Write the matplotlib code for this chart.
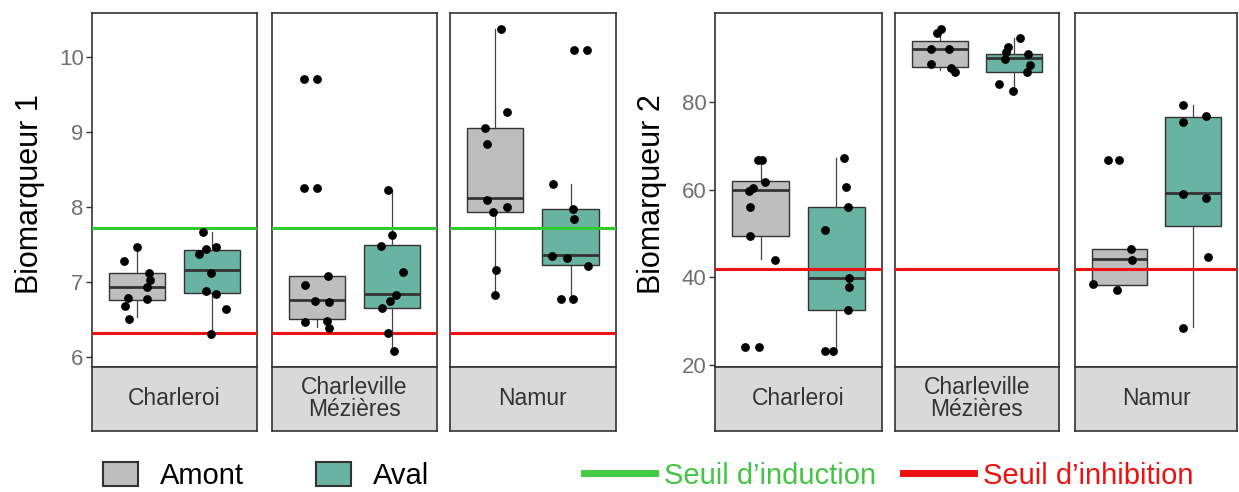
import matplotlib.pyplot as plt
from matplotlib.patches import Patch
from matplotlib.lines import Line2D

plt.rcParams['font.family'] = ['Liberation Sans', 'DejaVu Sans']

sites = ["Charleroi", "Charleville\nMézières", "Namur"]
groups = ["Amont", "Aval"]

# box order: Charleroi Amont, Charleroi Aval, Charleville Amont, Charleville Aval, Namur Amont, Namur Aval
bio1_whislo = [6.54, 6.31, 6.40, 6.09, 6.83, 6.78]
bio1_q1 = [6.77, 6.86, 6.51, 6.66, 7.94, 7.23]
bio1_med = [6.94, 7.16, 6.77, 6.85, 8.12, 7.36]
bio1_q3 = [7.13, 7.43, 7.09, 7.50, 9.06, 7.98]
bio1_whishi = [7.47, 7.665, 7.09, 8.23, 10.37, 8.31]

bio1_pts = [
    [7.285, 7.474, 7.12, 7.03, 6.94, 6.78, 6.79, 6.69, 6.51],
    [7.665, 7.38, 7.44, 7.47, 7.13, 6.89, 6.85, 6.64, 6.31],
    [9.71, 9.71, 8.25, 8.25, 7.09, 6.97, 6.75, 6.74, 6.47, 6.48, 6.39],
    [8.23, 7.63, 7.49, 7.14, 6.83, 6.75, 6.66, 6.33, 6.09],
    [10.37, 9.27, 9.05, 8.84, 8.10, 7.94, 8.01, 7.17, 6.83],
    [10.09, 10.09, 8.31, 7.98, 7.85, 7.35, 7.32, 7.22, 6.78, 6.78],
]
bio1_jit = [
    [-0.18, 0.0, 0.155, 0.17, 0.135, 0.135, -0.126, -0.16, -0.105],
    [-0.12, -0.17, -0.08, 0.05, -0.02, -0.08, 0.05, 0.18, -0.02],
    [-0.17, 0.0, -0.17, 0.0, 0.14, -0.16, -0.03, 0.155, -0.16, 0.13, 0.155],
    [-0.05, 0.0, -0.15, 0.15, 0.05, -0.03, -0.13, -0.06, 0.03],
    [0.08, 0.16, -0.14, -0.11, -0.11, -0.03, 0.16, 0.01, 0.0],
    [0.04, 0.22, -0.23, 0.03, 0.045, -0.24, -0.04, 0.23, -0.13, 0.03],
]

bio2_whislo = [44.2, 23.2, 87.4, 82.8, 37.0, 28.7]
bio2_q1 = [49.5, 32.5, 88.2, 86.9, 38.2, 51.6]
bio2_med = [60.0, 39.8, 92.1, 90.2, 44.2, 59.2]
bio2_q3 = [61.9, 56.1, 94.0, 91.1, 46.5, 76.6]
bio2_whishi = [66.7, 67.3, 96.7, 94.8, 46.5, 79.3]

bio2_pts = [
    [66.7, 66.7, 61.8, 60.5, 59.8, 56.0, 49.5, 44.0, 24.0, 24.0],
    [67.2, 60.7, 56.1, 50.8, 39.9, 37.8, 32.5, 23.2, 23.2],
    [96.7, 95.8, 92.2, 92.2, 88.7, 87.8, 86.9],
    [94.8, 92.7, 91.6, 91.1, 89.9, 88.6, 86.9, 84.2, 82.5],
    [66.7, 66.7, 46.5, 44.0, 38.4, 37.0],
    [79.3, 75.5, 76.8, 59.0, 58.1, 44.6, 28.3],
]
bio2_jit = [
    [-0.03, 0.02, 0.06, -0.1, -0.15, -0.14, -0.14, 0.195, -0.21, -0.02],
    [0.1, 0.12, 0.15, -0.15, 0.16, 0.17, 0.15, -0.15, -0.05],
    [0.02, -0.03, -0.12, 0.13, -0.12, 0.155, 0.21],
    [0.08, -0.08, -0.115, 0.19, -0.13, 0.21, 0.17, -0.2, -0.02],
    [-0.15, 0.0, 0.16, 0.17, -0.35, -0.03],
    [-0.13, -0.13, 0.17, -0.13, 0.17, 0.2, -0.13],
]

bio1_induction = 7.72
bio1_inhibition = 6.32
bio2_inhibition = 41.8

bio1_ticks = [6, 7, 8, 9, 10]
bio2_ticks = [20, 40, 60, 80]

box_colors = ["#bebebe", "#69b3a2"]
green = "#2fcc2f"
red = "#ee1111"
edge = "#333333"

W, H = 1239, 492
fig = plt.figure(figsize=(W / 100, H / 100), dpi=100)


def px_axes(x0, x1, y0, y1):
    return fig.add_axes([x0 / W, 1 - y1 / H, (x1 - x0) / W, (y1 - y0) / H])


def draw_group(xspans, whislo, q1, med, q3, whishi, pts, jit, ticks, ylabel, ylab_x, lines):
    allv = whislo + whishi + [v for p in pts for v in p]
    lo, hi = min(allv), max(allv)
    pad = 0.05 * (hi - lo)
    for s, (x0, x1) in enumerate(xspans):
        ax = px_axes(x0, x1, 13.3, 366.7)
        stats = []
        for g in range(2):
            k = 2 * s + g
            stats.append(dict(whislo=whislo[k], q1=q1[k], med=med[k], q3=q3[k],
                              whishi=whishi[k], fliers=[]))
        b = ax.bxp(stats, positions=[1, 2], widths=0.75, patch_artist=True,
                   showfliers=False, showcaps=False,
                   boxprops=dict(edgecolor=edge, linewidth=1.0),
                   whiskerprops=dict(color="#444444", linewidth=0.9),
                   medianprops=dict(color=edge, linewidth=2.0))
        for patch, c in zip(b['boxes'], box_colors):
            patch.set_facecolor(c)
        for val, c in lines:
            ax.axhline(val, color=c, lw=2.2, zorder=3)
        for g in range(2):
            k = 2 * s + g
            ax.scatter([g + 1 + j for j in jit[k]], pts[k], s=40, color="black",
                       zorder=4, linewidths=0)
        ax.set_xlim(0.4, 2.6)
        ax.set_ylim(lo - pad, hi + pad)
        ax.set_xticks([])
        for sp in ax.spines.values():
            sp.set_color(edge)
            sp.set_linewidth(1.2)
        if s == 0:
            ax.set_yticks(ticks)
            ax.tick_params(axis="y", length=4, width=1, color=edge,
                           labelsize=16, labelcolor="#707070", pad=2)
        else:
            ax.set_yticks([])

        st = px_axes(x0, x1, 366.7, 431)
        st.set_facecolor("#d9d9d9")
        st.set_xticks([])
        st.set_yticks([])
        for sp in st.spines.values():
            sp.set_color(edge)
            sp.set_linewidth(1.2)
        st.text(0.5, 0.5, sites[s], ha="center", va="center", fontsize=16.5,
                color="#333333", linespacing=0.95, transform=st.transAxes)

    fig.text(ylab_x / W, 1 - 194 / H, ylabel, rotation=90, ha="center",
             va="center", fontsize=22, color="black")


draw_group([(92, 257), (272, 437), (450, 615.7)],
           bio1_whislo, bio1_q1, bio1_med, bio1_q3, bio1_whishi,
           bio1_pts, bio1_jit, bio1_ticks, "Biomarqueur 1", 30,
           [(bio1_induction, green), (bio1_inhibition, red)])

draw_group([(715, 882), (895, 1059), (1075, 1237.3)],
           bio2_whislo, bio2_q1, bio2_med, bio2_q3, bio2_whishi,
           bio2_pts, bio2_jit, bio2_ticks, "Biomarqueur 2", 652,
           [(bio2_inhibition, red)])

# legend, one entry at a time so each keeps its own place
fs = 21
fs_px = fs * 100 / 72
entries = [
    (Patch(facecolor=box_colors[0], edgecolor=edge, linewidth=1.5), groups[0], 103, "black"),
    (Patch(facecolor=box_colors[1], edgecolor=edge, linewidth=1.5), groups[1], 316, "black"),
    (Line2D([], [], color="#44cc44", lw=5), "Seuil d’induction", 584, "#44c444"),
    (Line2D([], [], color=red, lw=5), "Seuil d’inhibition", 903, red),
]
for h, lab, x, tc in entries:
    is_patch = isinstance(h, Patch)
    hl = (35 if is_patch else 71) / fs_px
    gap = (22 if is_patch else 9) / fs_px
    fig.legend([h], [lab], loc="center left", bbox_to_anchor=(x / W, 1 - 476 / H),
               frameon=False, fontsize=fs, handlelength=hl, handleheight=25 / fs_px,
               handletextpad=gap, borderpad=0, borderaxespad=0, labelcolor=tc)

fig.savefig("out.png", dpi=100)
